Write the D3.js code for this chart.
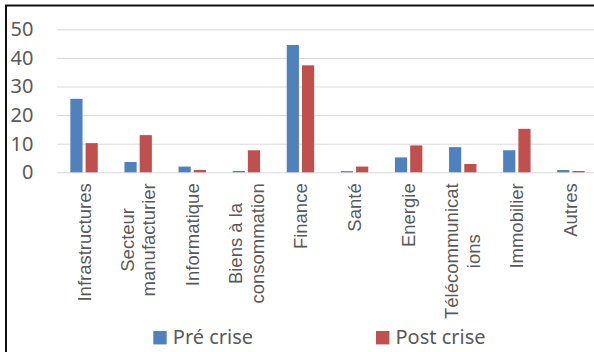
<!DOCTYPE html>
<html>
<head>
<meta charset="utf-8">
<script src="https://cdn.jsdelivr.net/npm/d3@7"></script>
<style>
  html, body { margin: 0; padding: 0; background: #fff; }
  svg { display: block; }
</style>
</head>
<body>
<script>
const categories = ["Infrastructures", "Secteur manufacturier", "Informatique", "Biens à la consommation", "Finance", "Santé", "Energie", "Télécommunications", "Immobilier", "Autres"];
const categoryLines = [["Infrastructures"], ["Secteur", "manufacturier"], ["Informatique"], ["Biens à la", "consommation"], ["Finance"], ["Santé"], ["Energie"], ["Télécommunicat", "ions"], ["Immobilier"], ["Autres"]];
const seriesNames = ["Pré crise", "Post crise"];
const preCrise = [25.7, 3.6, 2.0, 0.45, 44.5, 0.4, 5.2, 8.8, 7.7, 0.8];
const postCrise = [10.2, 13.0, 0.8, 7.7, 37.4, 2.0, 9.4, 2.9, 15.2, 0.45];
const yTicks = [0, 10, 20, 30, 40, 50];
const colors = ["#4F81BD", "#C0504D"];

const W = 594, H = 352;
const svg = d3.select("body").append("svg").attr("width", W).attr("height", H);

svg.append("rect").attr("x", 0).attr("y", 0).attr("width", W).attr("height", H).attr("fill", "#fff");
// frame (extends past right/bottom edges)
svg.append("rect").attr("x", 6).attr("y", 5.5).attr("width", W + 20).attr("height", H + 20)
  .attr("fill", "none").attr("stroke", "#111").attr("stroke-width", 2);

const x0 = d3.scaleBand().domain(categories).range([57, 598]).padding(0);
const x1 = d3.scaleBand().domain(seriesNames).range([-13.7, 13.7]).paddingInner(0.2);
const y = d3.scaleLinear().domain([0, 50]).range([172.3, 29.3]);

// y axis with gridlines
const yAxis = d3.axisLeft(y).tickValues(yTicks).tickSize(-(W - 57 + 10)).tickPadding(23.5);
const gy = svg.append("g").attr("transform", "translate(57,0)").call(yAxis);
gy.select(".domain").remove();
gy.selectAll(".tick line").attr("stroke", "#d9d9d9").attr("stroke-width", 1);
gy.selectAll(".tick text").attr("fill", "#595959").style("font-family", "'Noto Sans', 'Open Sans', sans-serif").style("font-size", "20px");

// bars
const data = categories.map((c, i) => ({ c, vals: [preCrise[i], postCrise[i]] }));
const groups = svg.append("g").selectAll("g").data(data).join("g")
  .attr("transform", d => `translate(${x0(d.c) + x0.bandwidth() / 2},0)`);
groups.selectAll("rect").data(d => d.vals.map((v, j) => ({ v, s: seriesNames[j], j })))
  .join("rect")
  .attr("x", d => x1(d.s))
  .attr("width", x1.bandwidth())
  .attr("y", d => y(d.v))
  .attr("height", d => y(0) - y(d.v))
  .attr("fill", d => colors[d.j]);

// x axis labels
const xAxis = d3.axisBottom(x0).tickSize(0).tickFormat("");
const gx = svg.append("g").attr("transform", `translate(0,${y(0)})`).call(xAxis);
gx.select(".domain").remove();
const fontSize = 18.5, lineH = 21.5;
gx.selectAll(".tick").each(function(d, i) {
  const lines = categoryLines[i];
  const t = d3.select(this).append("text")
    .attr("fill", "#595959")
    .style("font-family", "'Liberation Sans', Arial, sans-serif")
    .style("font-size", fontSize + "px")
    .attr("text-anchor", "middle");
  lines.forEach((ln, k) => {
    t.append("tspan").attr("x", 0)
      .attr("y", (k - (lines.length - 1) / 2) * lineH)
      .attr("dy", "0.35em").text(ln);
  });
  let maxLen = 0;
  t.selectAll("tspan").each(function() { maxLen = Math.max(maxLen, this.getComputedTextLength()); });
  const cy = 11 + maxLen / 2;
  t.attr("transform", `translate(0,${cy}) rotate(-90)`);
});

// legend
const legendX = [153.3, 376];
const lg = svg.append("g");
seriesNames.forEach((s, j) => {
  lg.append("rect").attr("x", legendX[j]).attr("y", 331).attr("width", 13.4).attr("height", 13.4).attr("fill", colors[j]);
  lg.append("text").attr("x", legendX[j] + 19.5).attr("y", 344.3)
    .attr("fill", "#595959")
    .style("font-family", "'Noto Sans', 'Open Sans', sans-serif")
    .style("font-size", "20px")
    .text(s);
});
</script>
</body>
</html>
